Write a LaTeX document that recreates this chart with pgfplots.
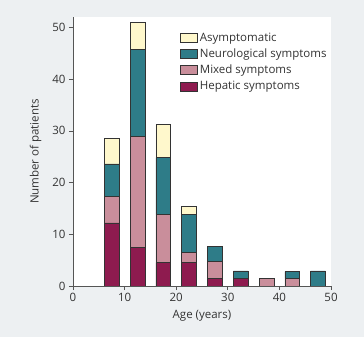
\documentclass[border=0pt]{standalone}
\usepackage{pgfplots}
\pgfplotsset{compat=1.18}
\usepackage{fontspec}
\setmainfont{Open Sans}
\definecolor{bg}{HTML}{EDF0F2}
\definecolor{hep}{HTML}{8E1B4F}
\definecolor{mix}{HTML}{C98E9B}
\definecolor{neu}{HTML}{2E7C88}
\definecolor{asy}{HTML}{FFF8CC}
\definecolor{axc}{HTML}{555555}
\definecolor{txt}{HTML}{333333}
\begin{document}
\begin{tikzpicture}[x=1pt,y=1pt]
\fill[bg] (-73,-51) rectangle (291,286);
\begin{axis}[
  at={(0,0)}, anchor=origin,
  scale only axis, width=258pt, height=269pt,
  xmin=0, xmax=50, ymin=0, ymax=52,
  axis background/.style={fill=white},
  axis x line*=bottom, axis y line*=left,
  axis line style={axc, line width=0.6pt},
  tick style={axc, line width=0.6pt},
  tick align=outside, major tick length=4pt,
  xtick={0,10,...,50}, ytick={0,10,...,50},
  font=\fontsize{11.5}{13}\selectfont,
  every tick label/.append style={text=txt},
  /pgf/number format/assume math mode=true,
  xlabel={Age (years)}, ylabel={Number of patients},
  label style={text=txt},
  xlabel style={yshift=-1pt}, ylabel style={yshift=4pt},
  ybar stacked, bar width=14.7pt,
  every axis plot/.append style={draw=black!80, line width=0.6pt},
  reverse legend,
  legend style={at={(0.415,0.949)}, anchor=north west, draw=none, fill=none,
    font=\fontsize{11.5}{13}\selectfont, text=txt, row sep=2pt, inner sep=0pt,
    nodes={inner xsep=2pt}},
  legend cell align=left,
  legend image code/.code={\draw[#1, line width=0.6pt] (0pt,-4.5pt) rectangle (17pt,4.5pt);},
]
\addplot[fill=hep] coordinates {(7.5,12.2) (12.5,7.5) (17.5,4.5) (22.5,4.5) (27.5,1.5) (32.5,1.5) (37.5,0) (42.5,0) (47.5,0)};
\addplot[fill=mix] coordinates {(7.5,5.1) (12.5,21.4) (17.5,9.3) (22.5,2.0) (27.5,3.3) (32.5,0) (37.5,1.5) (42.5,1.5) (47.5,0)};
\addplot[fill=neu] coordinates {(7.5,6.3) (12.5,16.9) (17.5,11.0) (22.5,7.3) (27.5,2.8) (32.5,1.4) (37.5,0) (42.5,1.3) (47.5,2.9)};
\addplot[fill=asy] coordinates {(7.5,5.0) (12.5,5.1) (17.5,6.4) (22.5,1.6) (27.5,0) (32.5,0) (37.5,0) (42.5,0) (47.5,0)};
\legend{Hepatic symptoms, Mixed symptoms, Neurological symptoms, Asymptomatic}
\end{axis}
\end{tikzpicture}
\end{document}
